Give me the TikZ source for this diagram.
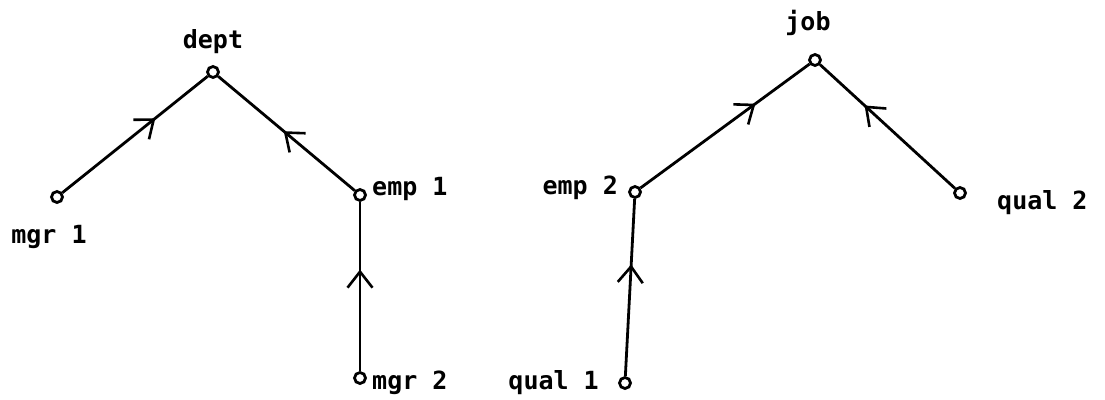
\documentclass[tikz,border=0pt]{standalone}
\usepackage{fontspec}
\newfontfamily\labelfont{DejaVu Sans Mono}
\usetikzlibrary{arrows.meta,decorations.markings}
\tikzset{
  vertex/.style={circle, draw, line width=2.8pt, inner sep=0pt, minimum size=11pt, fill=white},
  lbl/.style={inner sep=0pt, font=\labelfont\bfseries\fontsize{25}{30}\selectfont},
  edge/.style={line width=2.8pt},
  midarrow/.style={postaction={decorate}, decoration={markings,
      mark=at position #1 with {\arrow[line width=2.6pt]{Straight Barb[length=16pt, width=25pt]}}}}
}
\begin{document}
\begin{tikzpicture}[x=1pt, y=-1pt]
  \useasboundingbox (0,0) rectangle (1105,399);

  % left tree: dept
  \node[vertex] (dept) at (213,72) {};
  \node[vertex] (mgr1) at (57,197) {};
  \node[vertex] (emp1) at (360,195) {};
  \node[vertex] (mgr2) at (360,378) {};

  \node[lbl] (deptl) at (213,42) {dept};
  \node[lbl] (mgr1l) at (49,237) {mgr 1};
  \node[lbl, anchor=west] (emp1l) at (372,189) {emp 1};
  \node[lbl, anchor=west] (mgr2l) at (372,383) {mgr 2};

  \draw[edge, midarrow=0.64] (mgr1) -- (dept);
  \draw[edge, midarrow=0.52] (emp1) -- (dept);
  \draw[edge, midarrow=0.6] (mgr2) -- (emp1);

  % right tree: job
  \node[vertex] (job) at (815,60) {};
  \node[vertex] (emp2) at (635,192) {};
  \node[vertex] (qual2) at (960,193) {};
  \node[vertex] (qual1) at (625,383) {};

  \node[lbl] (jobl) at (808,23) {job};
  \node[lbl, anchor=east] (emp2l) at (618,188) {emp 2};
  \node[lbl, anchor=west] (qual2l) at (997,203) {qual 2};
  \node[lbl, anchor=east] (qual1l) at (599,383) {qual 1};

  \draw[edge, midarrow=0.68] (emp2) -- (job);
  \draw[edge, midarrow=0.67] (qual2) -- (job);
  \draw[edge, midarrow=0.63] (qual1) -- (emp2);
\end{tikzpicture}
\end{document}
